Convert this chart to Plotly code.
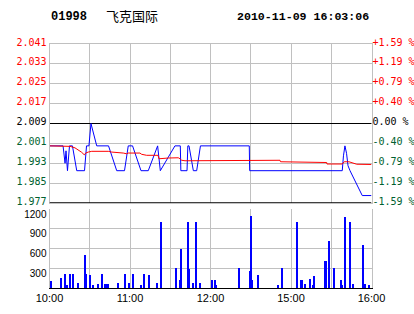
import plotly.graph_objects as go

# ---------------- data ----------------
stock_code = "01998"
stock_name = "飞克国际"
timestamp = "2010-11-09 16:03:06"
prev_close = 2.009

# trading minutes from 10:00 (10:00-12:30, 14:30-16:00 -> 0..240)
price_minutes = [0, 10.1, 11.6, 12.3, 13.4, 14.9, 17.1, 20.3, 26.1, 26.7, 27.6, 29.4,
                 30.9, 35.2, 44.0, 50.1, 55.9, 58.7, 61.9, 68.2, 73.6, 80.6, 82.6,
                 93.5, 97.5, 97.9, 102.5, 103.1, 104.0, 107.2, 109.7, 112.5, 148.9,
                 149.2, 218.2, 219.1, 220.2, 221.4, 222.5, 224.0, 233.1, 240]
price_values = [2.000, 2.000, 1.993, 1.998, 1.990, 2.000, 2.000, 1.990, 1.990, 1.996,
                2.000, 2.000, 2.009, 2.000, 2.000, 1.990, 1.990, 2.000, 2.000, 1.990,
                1.990, 2.000, 1.990, 2.000, 2.000, 1.990, 1.990, 2.000, 2.000, 1.990,
                1.990, 2.000, 2.000, 1.990, 1.990, 1.996, 2.000, 1.997, 1.992, 1.990,
                1.980, 1.980]

avg_minutes = [0, 11.6, 15.3, 19.0, 21.5, 24.0, 25.9, 27.0, 28.9, 31.5, 43.8, 46.4,
               55.0, 57.5, 58.7, 67.4, 68.7, 72.4, 80.9, 81.6, 88.5, 96.0, 97.3, 98.5,
               101.0, 132.1, 132.3, 171.8, 172.2, 188.0, 188.2, 206.6, 206.8, 218.2,
               219.7, 223.2, 229.0, 240]
avg_values = [2.0000, 2.0000, 1.9998, 1.9992, 1.9984, 1.9974, 1.9964, 1.9971, 1.9975,
              1.9978, 1.9978, 1.9975, 1.9971, 1.9968, 1.9971, 1.9971, 1.9966, 1.9962,
              1.9962, 1.9948, 1.9951, 1.9952, 1.9948, 1.9942, 1.9940, 1.9940, 1.9942,
              1.9942, 1.9936, 1.9936, 1.9933, 1.9933, 1.9927, 1.9927, 1.9936, 1.9936,
              1.9926, 1.9925]

volume_minutes = [1, 8, 11, 13, 15, 17, 21, 26, 27, 30, 32, 36, 39, 41, 42, 43, 51, 56,
                  59, 62, 68, 70, 74, 80, 83, 94, 97, 98, 103, 104, 107, 109, 112, 121,
                  123, 124, 141, 149, 150, 151, 155, 170, 173, 184, 187, 188, 190, 194,
                  196, 197, 205, 206, 208, 212, 217, 218, 220, 224, 226, 233, 235, 238]
volume_values = [110, 150, 210, 50, 210, 210, 80, 500, 210, 200, 50, 60, 210, 60, 60, 60,
                 80, 210, 80, 210, 50, 210, 200, 80, 1000, 300, 120, 600, 1000, 290, 80,
                 1000, 80, 120, 120, 50, 300, 260, 1100, 120, 200, 50, 300, 1000, 120,
                 120, 60, 140, 50, 180, 410, 410, 710, 300, 120, 50, 1080, 1000, 60, 650,
                 60, 50]

price_ticks = [2.041, 2.033, 2.025, 2.017, 2.009, 2.001, 1.993, 1.985, 1.977]
pct_labels = ["+1.59 %", "+1.19 %", "+0.79 %", "+0.40 %", "0.00 %",
              "-0.40 %", "-0.79 %", "-1.19 %", "-1.59 %"]
volume_ticks = [300, 600, 900, 1200]
time_ticks = [0, 30, 60, 90, 120, 150, 180, 210, 240]
time_labels = ["10:00", "", "11:00", "", "12:00", "", "15:00", "", "16:00"]

# ---------------- styling ----------------
RED = "#ff0000"
GREEN = "#005f2f"
GRID = "#c0c0c0"
MONO = "DejaVu Sans Mono"
SANS = "Liberation Sans"

W, H = 414, 314
x_dom = [49.5 / W, 371.5 / W]
top_dom = [1 - 203 / H, 1 - 44 / H]
vol_dom = [1 - 288 / H, 1 - 209 / H]


def colored(label, value):
    if value > prev_close + 1e-9:
        c = RED
    elif value < prev_close - 1e-9:
        c = GREEN
    else:
        c = "#000000"
    return f"<span style='color:{c}'>{label}</span>"


left_text = [colored(f"{v:.3f}", v) for v in price_ticks]
right_text = [colored(t, v) for t, v in zip(pct_labels, price_ticks)]

fig = go.Figure()
fig.add_trace(go.Scatter(x=price_minutes, y=price_values, mode="lines",
                         line=dict(color="#0000ff", width=1), xaxis="x", yaxis="y",
                         hoverinfo="skip"))
fig.add_trace(go.Scatter(x=avg_minutes, y=avg_values, mode="lines",
                         line=dict(color=RED, width=1), xaxis="x", yaxis="y",
                         hoverinfo="skip"))
fig.add_trace(go.Scatter(x=[0, 240], y=[prev_close, prev_close], mode="lines",
                         line=dict(color="rgba(0,0,0,0)", width=0), xaxis="x", yaxis="y2",
                         hoverinfo="skip"))
fig.add_trace(go.Bar(x=volume_minutes, y=volume_values, width=0.9,
                     marker=dict(color="#0000ff", line=dict(width=0)),
                     xaxis="x2", yaxis="y3", hoverinfo="skip"))

fig.update_layout(
    width=W, height=H,
    margin=dict(l=0, r=0, t=0, b=0, autoexpand=False),
    paper_bgcolor="white", plot_bgcolor="white",
    showlegend=False,
    bargap=0,
    xaxis=dict(domain=x_dom, range=[0, 240], tickvals=time_ticks, showticklabels=False,
               showgrid=True, gridcolor=GRID, gridwidth=1, zeroline=False,
               showline=True, linecolor=GRID, linewidth=1, mirror=True, ticks="",
               anchor="y", automargin=False),
    yaxis=dict(domain=top_dom, range=[1.977, 2.041], tickvals=price_ticks,
               ticktext=left_text, showgrid=True, gridcolor=GRID, gridwidth=1,
               zeroline=False, showline=True, linecolor=GRID, mirror=True, ticks="",
               ticklabelshift=-2, automargin=False,
               tickfont=dict(family=MONO, size=10), anchor="x"),
    yaxis2=dict(overlaying="y", side="right", range=[1.977, 2.041],
                tickvals=price_ticks, ticktext=right_text, showgrid=False,
                zeroline=False, showline=False, ticks="", automargin=False,
                ticklabelshift=-2,
                tickfont=dict(family=MONO, size=10), anchor="x"),
    xaxis2=dict(domain=x_dom, range=[0, 240], tickvals=time_ticks, ticktext=time_labels,
                showgrid=True, gridcolor=GRID, gridwidth=1, zeroline=False,
                showline=True, linecolor="#000000", linewidth=1, ticks="",
                tickfont=dict(family=SANS, size=11, color="#000000"), anchor="y3",
                automargin=False),
    yaxis3=dict(domain=vol_dom, range=[0, 1200], tickvals=volume_ticks,
                showgrid=True, gridcolor=GRID, gridwidth=1, zeroline=False,
                showline=True, linecolor=GRID, mirror=True, ticks="",
                ticklabelshift=5, automargin=False,
                tickfont=dict(family=SANS, size=10, color="#000000"), anchor="x2"),
    shapes=[
        dict(type="line", xref="x", yref="y", x0=0, x1=240, y0=prev_close, y1=prev_close,
             line=dict(color="#000000", width=1), layer="between"),
        dict(type="line", xref="x", yref="y", x0=0, x1=240, y0=1.977, y1=1.977,
             line=dict(color="#000000", width=1.5), layer="above"),
    ],
    annotations=[
        dict(text=f"<b>{stock_code}</b>", xref="paper", yref="paper", x=49 / W,
             y=1 - 17 / H, xanchor="left", yanchor="middle", showarrow=False,
             font=dict(family="Liberation Mono", size=12, color="#000000")),
        dict(text=stock_name, xref="paper", yref="paper", x=104 / W, y=1 - 16 / H,
             xanchor="left", yanchor="middle", showarrow=False,
             font=dict(family="Noto Sans CJK SC", size=13, color="#000000")),
        dict(text=f"<b>{timestamp}</b>", xref="paper", yref="paper", x=371 / W,
             y=1 - 17 / H, xanchor="right", yanchor="middle", showarrow=False,
             font=dict(family="Liberation Mono", size=11.6, color="#000000")),
    ],
)

fig.write_html("out.html")
